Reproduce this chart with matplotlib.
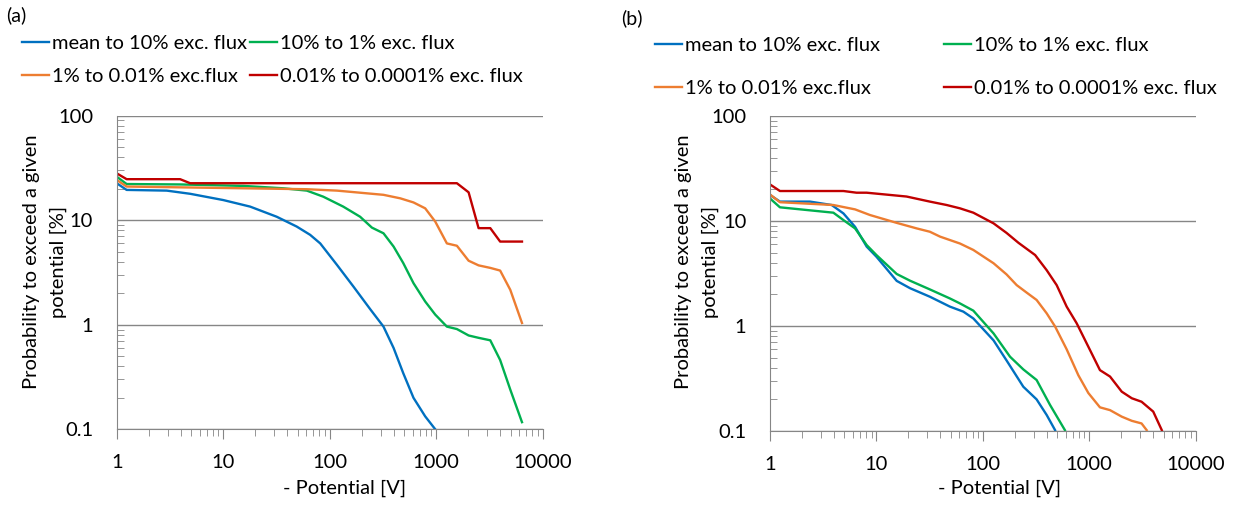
import matplotlib.pyplot as plt
import numpy as np

plt.rcParams['font.family'] = ['Lato', 'DejaVu Sans']

labels = ['mean to 10% exc. flux', '10% to 1% exc. flux',
          '1% to 0.01% exc.flux', '0.01% to 0.0001% exc. flux']
colors = ['#0070C0', '#00B050', '#ED7D31', '#C00000']

# panel (a)
a_blue_x = [1, 1.24, 2.95, 4.9, 10, 17.9, 31.8, 49, 65.5, 81.5, 117, 167, 240, 320, 398, 490, 612, 788, 980]
a_blue_y = [22.6, 19.5, 19.2, 17.9, 15.6, 13.5, 10.8, 8.7, 7.25, 6.0, 3.74, 2.32, 1.41, 0.96, 0.6, 0.345, 0.2, 0.133, 0.1]
a_green_x = [1, 1.24, 3.94, 15.5, 36.8, 61, 87, 134, 193, 249, 320, 398, 490, 612, 788, 980, 1260, 1564, 2015, 2500, 3220, 3985, 4960, 6390]
a_green_y = [26.1, 22.2, 22.0, 21.3, 20.2, 19.2, 16.8, 13.5, 10.8, 8.5, 7.5, 5.6, 3.9, 2.5, 1.67, 1.25, 0.96, 0.91, 0.79, 0.75, 0.71, 0.46, 0.24, 0.117]
a_orange_x = [1, 1.24, 61, 117, 320, 460, 612, 788, 980, 1260, 1564, 2015, 2500, 3220, 3985, 4960, 6390]
a_orange_y = [24.3, 21.0, 19.8, 19.2, 17.5, 16.2, 14.8, 13.0, 9.7, 6.0, 5.7, 4.1, 3.7, 3.5, 3.3, 2.16, 1.04]
a_red_x = [1, 1.24, 3.94, 4.89, 1564, 2015, 2500, 3220, 3985, 6390]
a_red_y = [28.1, 24.7, 24.7, 22.6, 22.6, 18.5, 8.4, 8.4, 6.25, 6.25]

# panel (b)
b_blue_x = [1, 1.24, 2.38, 3.8, 4.9, 6.3, 8.1, 10, 15.5, 20.7, 31.8, 49, 65.6, 81.4, 126, 167, 240, 320, 398, 477]
b_blue_y = [17.7, 15.3, 15.3, 14.2, 11.8, 8.8, 5.7, 4.57, 2.69, 2.29, 1.9, 1.53, 1.37, 1.18, 0.73, 0.47, 0.264, 0.2, 0.142, 0.102]
b_green_x = [1, 1.24, 3.94, 4.9, 6.3, 8.1, 10, 15.5, 20.7, 31.8, 49, 61, 81.4, 126, 180, 240, 320, 428, 590]
b_green_y = [16.4, 13.5, 12.0, 10.2, 8.5, 5.9, 4.74, 3.13, 2.7, 2.23, 1.83, 1.64, 1.4, 0.85, 0.51, 0.386, 0.306, 0.177, 0.102]
b_orange_x = [1, 1.24, 3.94, 6.3, 8.7, 15.5, 23.9, 31.8, 39.6, 61, 81.4, 126, 167, 208, 258, 320, 398, 477, 613, 789, 980, 1260, 1567, 2018, 2510, 3100, 3460]
b_orange_y = [17.9, 15.1, 14.2, 12.9, 11.4, 9.6, 8.5, 7.9, 7.1, 6.1, 5.3, 3.96, 3.1, 2.45, 2.08, 1.77, 1.32, 0.99, 0.6, 0.34, 0.23, 0.168, 0.158, 0.137, 0.125, 0.118, 0.102]
b_red_x = [1, 1.24, 4.9, 6.5, 8.1, 19.2, 31.8, 45.7, 61, 81.4, 126, 167, 216, 310, 398, 494, 613, 762, 980, 1260, 1567, 2018, 2510, 3100, 3990, 4800]
b_red_y = [22.3, 19.3, 19.3, 18.6, 18.6, 17.1, 15.3, 14.2, 13.2, 12.0, 9.5, 7.7, 6.2, 4.74, 3.4, 2.45, 1.53, 1.06, 0.635, 0.38, 0.33, 0.237, 0.205, 0.19, 0.153, 0.102]

W, H = 1241, 508
fig = plt.figure(figsize=(W / 100, H / 100), dpi=100)

gray = '#868686'
fs = 14.5


def make_panel(rect, series, tag, tag_xy, leg_cols, leg_top, leg_gap, ylab_x, xlab_x):
    ax = fig.add_axes(rect)
    handles = []
    for (x, y), c, lab in zip(series, colors, labels):
        h, = ax.plot(x, y, color=c, lw=1.7, label=lab)
        handles.append(h)
    ax.set_xscale('log')
    ax.set_yscale('log')
    ax.set_xlim(1, 10000)
    ax.set_ylim(0.1, 100)
    ax.set_xticks([1, 10, 100, 1000, 10000])
    ax.set_xticklabels(['1', '10', '100', '1000', '10000'])
    ax.set_yticks([0.1, 1, 10, 100])
    ax.set_yticklabels(['0.1', '1', '10', '100'])
    ax.yaxis.grid(True, which='major', color=gray, lw=1)
    ax.set_axisbelow(True)
    for s in ['top', 'right']:
        ax.spines[s].set_visible(False)
    for s in ['left', 'bottom']:
        ax.spines[s].set_color(gray)
    ax.tick_params(axis='x', which='major', direction='out', length=7, color=gray,
                   labelsize=fs, pad=11)
    ax.tick_params(axis='x', which='minor', direction='out', length=5, color=gray)
    ax.tick_params(axis='y', which='major', direction='out', length=0, color=gray,
                   labelsize=fs, pad=17)
    ax.tick_params(axis='y', which='minor', direction='in', length=5, color=gray,
                   labelleft=False)
    fig.text(xlab_x / W, 1 - 488 / H, '- Potential [V]', ha='center', va='center', fontsize=fs)
    fig.text(ylab_x / W, 1 - 262 / H, 'Probability to exceed a given\npotential [%]',
             rotation=90, ha='center', va='center', fontsize=fs, linespacing=1.65)
    fig.text(tag_xy[0] / W, 1 - tag_xy[1] / H, tag, ha='left', va='center', fontsize=14)
    # legend, one per column
    for i, lx in enumerate(leg_cols):
        fig.legend([handles[i], handles[i + 2]], [labels[i], labels[i + 2]],
                   loc='upper left', bbox_to_anchor=(lx / W, 1 - leg_top / H),
                   frameon=False, fontsize=fs, handlelength=1.35, handletextpad=0.12,
                   borderpad=0, borderaxespad=0, labelspacing=leg_gap)
    return ax


make_panel([116.7 / W, 1 - 429.3 / H, 426 / W, 313.6 / H],
           [(a_blue_x, a_blue_y), (a_green_x, a_green_y), (a_orange_x, a_orange_y), (a_red_x, a_red_y)],
           '(a)', (6, 15), [22, 250], 35, 0.78, 45, 345)
make_panel([770 / W, 1 - 431 / H, 425.7 / W, 315 / H],
           [(b_blue_x, b_blue_y), (b_green_x, b_green_y), (b_orange_x, b_orange_y), (b_red_x, b_red_y)],
           '(b)', (621, 18), [655, 944], 37, 1.27, 697, 1000)

fig.savefig('out.png', dpi=100)
